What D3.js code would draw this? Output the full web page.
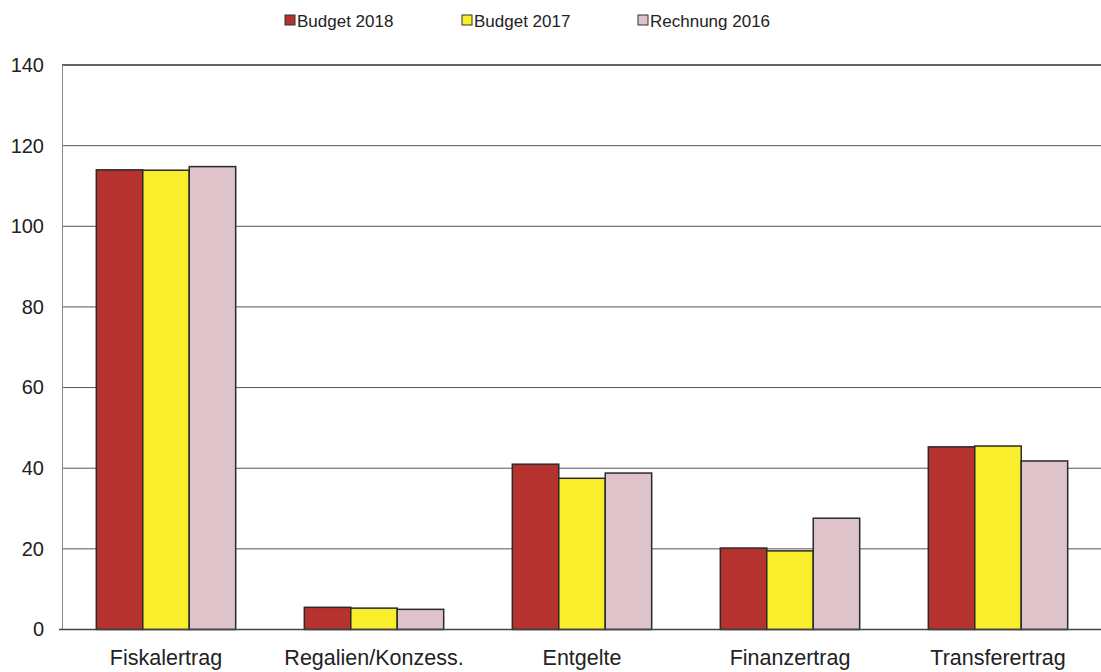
<!DOCTYPE html>
<html>
<head>
<meta charset="utf-8">
<script src="https://cdn.jsdelivr.net/npm/d3@7"></script>
<style>
  body { margin: 0; background: #fff; }
  svg { font-family: 'Liberation Sans', Arial, sans-serif; }
</style>
</head>
<body>
<script>
const categories = ['Fiskalertrag', 'Regalien/Konzess.', 'Entgelte', 'Finanzertrag', 'Transferertrag'];
const seriesNames = ['Budget 2018', 'Budget 2017', 'Rechnung 2016'];
const budget2018 = [114.0, 5.5, 41.0, 20.2, 45.3];
const budget2017 = [113.9, 5.3, 37.5, 19.5, 45.5];
const rechnung2016 = [114.8, 5.0, 38.8, 27.6, 41.8];
const colors = ['#b5322f', '#f8ee2c', '#dec3cb'];
const yTicks = [0, 20, 40, 60, 80, 100, 120, 140];

const width = 1101;
const height = 672;
const margin = { top: 65, right: -1, bottom: 42.5, left: 62 };

const data = categories.map((c, i) => ({
  category: c,
  values: [budget2018[i], budget2017[i], rechnung2016[i]]
}));

const svg = d3
  .select('body')
  .append('svg')
  .attr('width', width)
  .attr('height', height);

const x0 = d3
  .scaleBand()
  .domain(categories)
  .range([margin.left, width - margin.right])
  .paddingInner(0.33)
  .paddingOuter(0.165);

const x1 = d3
  .scaleBand()
  .domain(seriesNames)
  .range([0, x0.bandwidth()]);

const y = d3
  .scaleLinear()
  .domain([0, 140])
  .range([height - margin.bottom, margin.top]);

// gridlines
svg
  .append('g')
  .selectAll('line')
  .data(yTicks.filter(d => d > 0 && d < 140))
  .enter()
  .append('line')
  .attr('x1', margin.left)
  .attr('x2', width)
  .attr('y1', d => y(d))
  .attr('y2', d => y(d))
  .attr('stroke', '#555')
  .attr('stroke-width', 1);

// top border
svg
  .append('line')
  .attr('x1', margin.left)
  .attr('x2', width)
  .attr('y1', y(140))
  .attr('y2', y(140))
  .attr('stroke', '#333')
  .attr('stroke-width', 1.5);

// y axis
const yAxis = d3
  .axisLeft(y)
  .tickValues(yTicks)
  .tickSize(0)
  .tickPadding(18);

svg
  .append('g')
  .attr('transform', `translate(${margin.left}, 0)`)
  .call(yAxis)
  .call(g => g.select('.domain').attr('stroke', '#888').attr('stroke-width', 1))
  .call(g =>
    g
      .selectAll('text')
      .attr('font-size', 20)
      .attr('fill', '#222')
      .attr('font-family', "'Liberation Sans', Arial, sans-serif")
  );

// bars
const groups = svg
  .append('g')
  .selectAll('g')
  .data(data)
  .enter()
  .append('g')
  .attr('transform', d => `translate(${x0(d.category)}, 0)`);

groups
  .selectAll('rect')
  .data(d => d.values.map((v, i) => ({ name: seriesNames[i], value: v, i })))
  .enter()
  .append('rect')
  .attr('x', d => x1(d.name))
  .attr('y', d => y(d.value))
  .attr('width', x1.bandwidth())
  .attr('height', d => y(0) - y(d.value))
  .attr('fill', d => colors[d.i])
  .attr('stroke', '#2a2a2a')
  .attr('stroke-width', 1.5);

// baseline
svg
  .append('line')
  .attr('x1', margin.left - 3)
  .attr('x2', width)
  .attr('y1', y(0))
  .attr('y2', y(0))
  .attr('stroke', '#444')
  .attr('stroke-width', 1.5);

// x axis labels
const xAxis = d3.axisBottom(x0).tickSize(0).tickPadding(20);
svg
  .append('g')
  .attr('transform', `translate(0, ${y(0)})`)
  .call(xAxis)
  .call(g => g.select('.domain').remove())
  .call(g =>
    g
      .selectAll('text')
      .attr('font-size', 21.5)
      .attr('fill', '#222')
      .attr('font-family', "'Liberation Sans', Arial, sans-serif")
  );

// legend
const legendX = [285, 462, 638];
const legend = svg
  .append('g')
  .selectAll('g')
  .data(seriesNames)
  .enter()
  .append('g')
  .attr('transform', (d, i) => `translate(${legendX[i]}, 20)`);

legend
  .append('rect')
  .attr('x', 0)
  .attr('y', -5)
  .attr('width', 10)
  .attr('height', 10)
  .attr('fill', (d, i) => colors[i])
  .attr('stroke', '#333')
  .attr('stroke-width', 1);

legend
  .append('text')
  .attr('x', 12)
  .attr('y', 7)
  .attr('font-size', 17)
  .attr('fill', '#222')
  .text(d => d);
</script>
</body>
</html>
